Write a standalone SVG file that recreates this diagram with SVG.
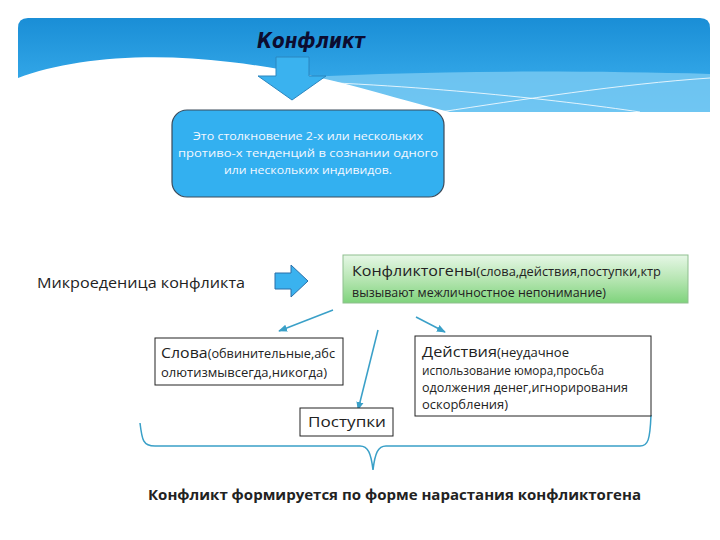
<svg xmlns="http://www.w3.org/2000/svg" width="720" height="540" viewBox="0 0 720 540">
<defs>
<linearGradient id="bannerG" x1="0" y1="0" x2="0" y2="1">
<stop offset="0" stop-color="#1a8ed6"/>
<stop offset="1" stop-color="#3fb3f0"/>
</linearGradient>
<linearGradient id="greenG" x1="0" y1="0" x2="0" y2="1">
<stop offset="0" stop-color="#e6f7e6"/>
<stop offset="0.5" stop-color="#b7e6b3"/>
<stop offset="1" stop-color="#7fd37c"/>
</linearGradient>
<marker id="ah" viewBox="0 0 10 10" refX="9" refY="5" markerWidth="6" markerHeight="6" orient="auto">
<path d="M0,1 L10,5 L0,9 Z" fill="#3aa0c8"/>
</marker>
<clipPath id="bclip"><path d="M28,18 H700 Q710,18 710,28 V112 H18 V28 Q18,18 28,18 Z"/></clipPath>
</defs>
<style>
.t{font-family:"Open Sans","Noto Sans",sans-serif;fill:#222}
.box{fill:#fff;stroke:#222;stroke-width:1}
.conn{fill:none;stroke:#3aa0c8;stroke-width:1.5}
</style>
<rect width="720" height="540" fill="#fff"/>
<g id="banner" clip-path="url(#bclip)">
<rect x="18" y="18" width="692" height="94" fill="url(#bannerG)"/>
<path d="M230,82 C380,70 560,70 710,74 L710,112 L230,112 Z" fill="#7ccbf2" opacity="0.8"/>
<path d="M18,78 C70,58 150,52 230,62 C320,72 390,98 450,112 L18,112 Z" fill="#fff"/>
<path d="M240,80 C400,82 560,100 640,112" fill="none" stroke="#fff" stroke-width="0.8"/>
<path d="M440,112 C520,100 620,84 710,78" fill="none" stroke="#fff" stroke-width="0.8"/>
</g>
<g id="title">
<text x="257" y="48" font-family="'DejaVu Sans','Noto Sans',sans-serif" font-style="italic" font-weight="bold" font-size="21" fill="#0c0c30" textLength="108" lengthAdjust="spacingAndGlyphs">Конфликт</text>
</g>
<g id="downArrow">
<path d="M276,57 H309 V76 H326 L292,100 L258,76 H276 Z" fill="#3ab2ef" stroke="#2a86c0" stroke-width="1"/>
</g>
<g id="definition">
<rect x="172" y="110" width="272" height="87" rx="15" fill="#33b0f0" stroke="#3a4a5a" stroke-width="1.2"/>
<g font-family="'Open Sans','Noto Sans',sans-serif" font-size="11" fill="#f4f8ff" text-anchor="middle">
<text x="308" y="140" textLength="230" lengthAdjust="spacingAndGlyphs">Это столкновение 2-х или нескольких</text>
<text x="308" y="157" textLength="260" lengthAdjust="spacingAndGlyphs">противо-х тенденций в сознании одного</text>
<text x="308" y="174" textLength="168" lengthAdjust="spacingAndGlyphs">или нескольких индивидов.</text>
</g>
</g>
<g id="micro">
<text class="t" x="37" y="288" font-size="15" textLength="208" lengthAdjust="spacingAndGlyphs">Микроеденица конфликта</text>
</g>
<g id="rightArrow">
<path d="M275,273 H291 V265 L308,281 L291,297 V289 H275 Z" fill="#3ab2ef" stroke="#2a6fa8" stroke-width="1"/>
</g>
<g id="konfliktogeny">
<rect x="343" y="255" width="345" height="48" fill="url(#greenG)" stroke="#8fbf8f" stroke-width="1"/>
<text class="t" x="352" y="276" textLength="309" lengthAdjust="spacingAndGlyphs"><tspan font-size="15">Конфликтогены</tspan><tspan font-size="12">(слова,действия,поступки,ктр</tspan></text>
<text class="t" x="352" y="297" font-size="12" textLength="254" lengthAdjust="spacingAndGlyphs">вызывают межличностное непонимание)</text>
</g>
<g id="connectors">
<line class="conn" x1="333" y1="310" x2="279" y2="331" marker-end="url(#ah)"/>
<line class="conn" x1="416" y1="317" x2="445" y2="332" marker-end="url(#ah)"/>
<line class="conn" x1="378" y1="330" x2="358" y2="410" marker-end="url(#ah)"/>
<path class="conn" stroke-width="1" d="M140,423 C142,440 143,446 155,446 H360 C368,446 371,453 373,470 C375,453 378,446 386,446 H640 C648,446 650,440 651,415"/>
</g>
<g id="slova">
<rect class="box" x="155" y="338" width="188" height="47"/>
<text class="t" x="161" y="358" textLength="174" lengthAdjust="spacingAndGlyphs"><tspan font-size="15">Слова</tspan><tspan font-size="12">(обвинительные,абс</tspan></text>
<text class="t" x="161" y="377" font-size="12" textLength="166" lengthAdjust="spacingAndGlyphs">олютизмывсегда,никогда)</text>
</g>
<g id="deystviya">
<rect class="box" x="415" y="336" width="236" height="80"/>
<text class="t" x="422" y="357" textLength="147" lengthAdjust="spacingAndGlyphs"><tspan font-size="15">Действия</tspan><tspan font-size="12">(неудачное</tspan></text>
<text class="t" x="422" y="375" font-size="12" textLength="182" lengthAdjust="spacingAndGlyphs">использование юмора,просьба</text>
<text class="t" x="422" y="392" font-size="12" textLength="206" lengthAdjust="spacingAndGlyphs">одолжения денег,игнорирования</text>
<text class="t" x="422" y="409" font-size="12" textLength="86" lengthAdjust="spacingAndGlyphs">оскорбления)</text>
</g>
<g id="postupki">
<rect class="box" x="300" y="408" width="93" height="28"/>
<text class="t" x="308" y="427" font-size="15" textLength="78" lengthAdjust="spacingAndGlyphs">Поступки</text>
</g>
<g id="conclusion">
<text class="t" x="148" y="500" font-size="14.5" font-weight="bold" textLength="493" lengthAdjust="spacingAndGlyphs">Конфликт формируется по форме нарастания конфликтогена</text>
</g>
</svg>
